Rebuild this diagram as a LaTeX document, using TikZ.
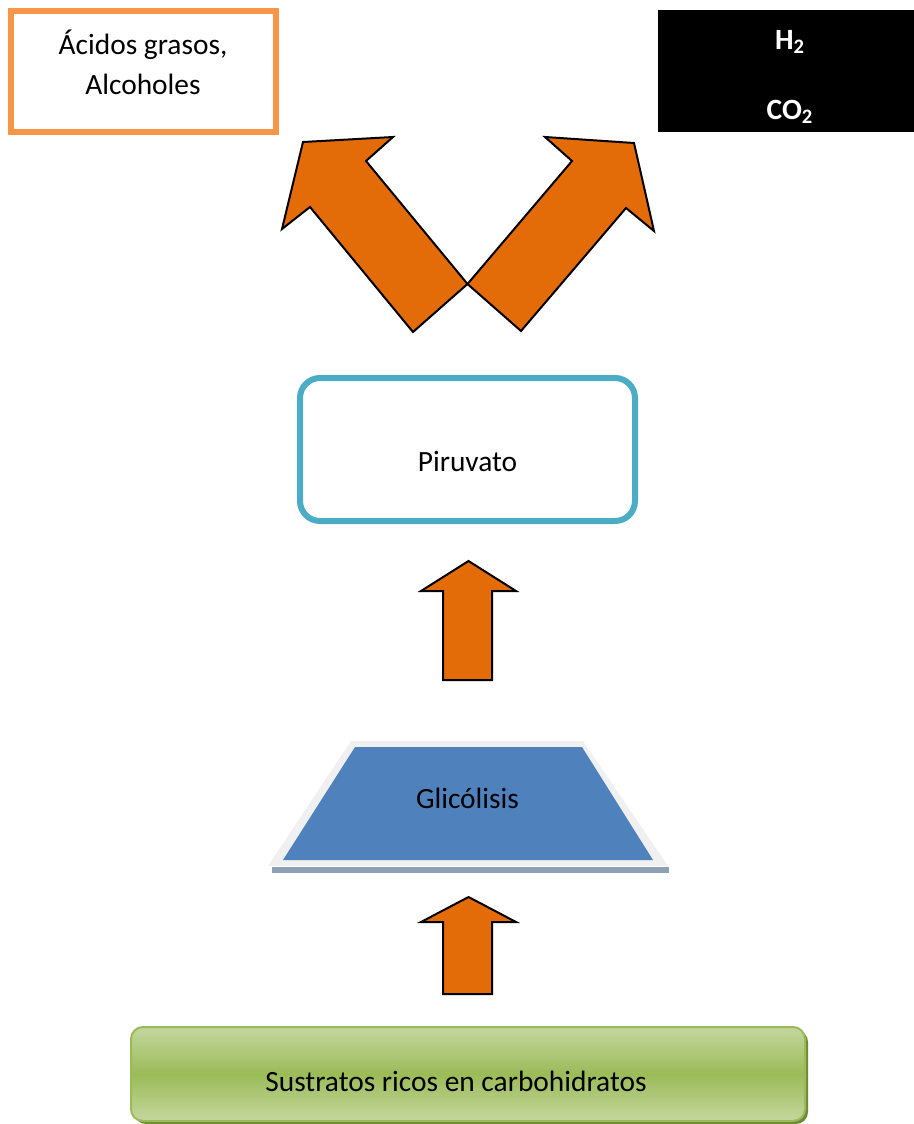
\documentclass[tikz,border=0pt]{standalone}
\usepackage{fontspec}
\setmainfont{Carlito}
\usetikzlibrary{positioning,calc}
\definecolor{Naranja}{HTML}{E36C09}
\definecolor{NaranjaClaro}{HTML}{F79646}
\definecolor{Turquesa}{HTML}{4BACC6}
\definecolor{Azul}{HTML}{4F81BD}
\definecolor{Marco}{HTML}{F0F0F0}
\definecolor{Sombra}{HTML}{8EA0B8}
\definecolor{Verde}{HTML}{9BBB59}
\definecolor{VerdeClaro}{HTML}{C4D79E}
\definecolor{VerdeOscuro}{HTML}{6E8A34}

\begin{document}
\begin{tikzpicture}[x=0.5pt,y=-0.5pt,
    txt/.style={font=\fontsize{14.7}{20}\selectfont,align=center,inner sep=0pt},
    gas/.style={font=\fontsize{14.7}{35}\selectfont\bfseries,text=white,align=center,inner sep=0pt},
    caja/.style={draw=NaranjaClaro,line width=3pt,fill=white,minimum width=132.5pt,minimum height=60.5pt,inner sep=0pt},
    negra/.style={fill=black,minimum width=128pt,minimum height=61pt,inner sep=0pt},
    piru/.style={draw=Turquesa,line width=3pt,rounded corners=10pt,fill=white,minimum width=167.5pt,minimum height=71.5pt,inner sep=0pt},
    sustr/.style={draw=Verde,line width=1pt,rounded corners=6pt,top color=VerdeClaro,bottom color=VerdeClaro,middle color=Verde,minimum width=337pt,minimum height=47pt,inner sep=0pt},
    flecha/.style={fill=Naranja,draw=black,line width=1pt,line join=miter}]
  \useasboundingbox (0,0) rectangle (914,1124);

  % cajas de productos
  \node[caja] (acidos) at (143.5,71.5) {};
  \node[txt] (acidosTxt) at (143,62) {Ácidos grasos,\\Alcoholes};
  \node[negra] (gases) at (786,71) {};
  \node[gas] (gasesTxt) at (790,77) {H\textsubscript{2}\\CO\textsubscript{2}};

  % flechas grandes
  \draw[flecha] (467.5,284) -- (366,161) -- (393,137) -- (303,142) -- (282,229) -- (310,207) -- (413,332) -- cycle;
  \draw[flecha] (467.5,284) -- (572,161) -- (545,137) -- (634,143) -- (654,231) -- (626,208) -- (521,331) -- cycle;

  % piruvato
  \node[piru] (piruvato) at (467.5,449.5) {};
  \node[txt] (piruvatoTxt) at (467.5,461) {Piruvato};

  \draw[flecha] (443,680) -- (443,591) -- (421,591) -- (468.5,561) -- (516,591) -- (492,591) -- (492,680) -- cycle;

  % glicolisis
  \fill[Sombra] (272,867) rectangle (669,873);
  \fill[Marco] (351,741) -- (583,741) -- (668,866) -- (268,866) -- cycle;
  \fill[Azul] (355,747) -- (582,747) -- (653,860) -- (283,860) -- cycle;
  \node[txt] (glicolisis) at (467.5,798) {Glicólisis};

  \draw[flecha] (443,994) -- (443,922) -- (421,922) -- (468.5,897) -- (516,922) -- (492,922) -- (492,994) -- cycle;

  % sustratos
  \fill[VerdeOscuro,rounded corners=6pt] (134,1030) rectangle (808,1124);
  \node[sustr] (sustratos) at (468,1074) {};
  \node[txt] (sustratosTxt) at (456,1081) {Sustratos ricos en carbohidratos};
\end{tikzpicture}
\end{document}
